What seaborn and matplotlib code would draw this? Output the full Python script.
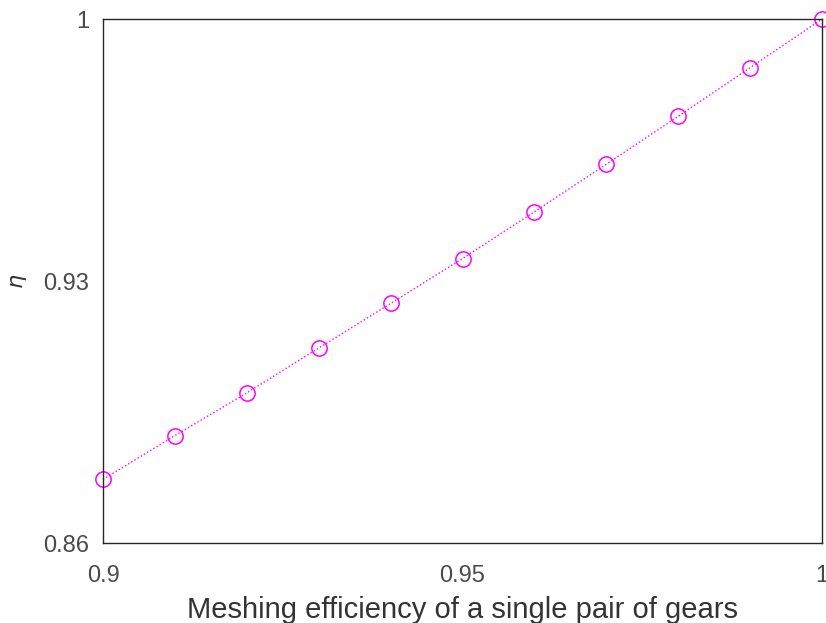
import pandas as pd
import matplotlib
matplotlib.use("Agg")
import matplotlib.pyplot as plt
import seaborn as sns

# values
mesh_eff = [0.90, 0.91, 0.92, 0.93, 0.94, 0.95, 0.96, 0.97, 0.98, 0.99, 1.00]
eta = [0.877, 0.8887, 0.9001, 0.9121, 0.924, 0.936, 0.9485, 0.9612, 0.974, 0.987, 1.000]
x_ticks = [0.9, 0.95, 1]
x_tick_labels = ["0.9", "0.95", "1"]
y_ticks = [0.86, 0.93, 1]
y_tick_labels = ["0.86", "0.93", "1"]

df = pd.DataFrame({"mesh": mesh_eff, "eta": eta})

sns.set_style("white")
plt.rcParams["font.family"] = ["Liberation Sans", "DejaVu Sans"]

fig = plt.figure(figsize=(8.26, 6.23), dpi=100)
ax = fig.add_axes([0.1247, 0.1284, 0.8705, 0.8411])

sns.lineplot(data=df, x="mesh", y="eta", ax=ax, color="#ff00ff", linestyle=":",
             linewidth=1.0, marker="o", markersize=11, markerfacecolor="none",
             markeredgecolor="#ff00ff", markeredgewidth=1.1, clip_on=False)

ax.set_xlim(0.9, 1.0)
ax.set_ylim(0.86, 1.0)
ax.set_xticks(x_ticks)
ax.set_xticklabels(x_tick_labels)
ax.set_yticks(y_ticks)
ax.set_yticklabels(y_tick_labels)
ax.tick_params(direction="in", length=5, width=0.8, colors="#262626",
               labelsize=17, labelcolor="#4a4a4a")
ax.tick_params(axis="x", pad=16)
ax.tick_params(axis="y", pad=10)

for s in ax.spines.values():
    s.set_color("#262626")
    s.set_linewidth(1.0)

ax.set_xlabel("Meshing efficiency of a single pair of gears", fontsize=21, color="#333333", labelpad=6)
ax.set_ylabel(r"$\eta$", fontsize=16, color="#333333", labelpad=10)

fig.savefig("out.png", dpi=100)
